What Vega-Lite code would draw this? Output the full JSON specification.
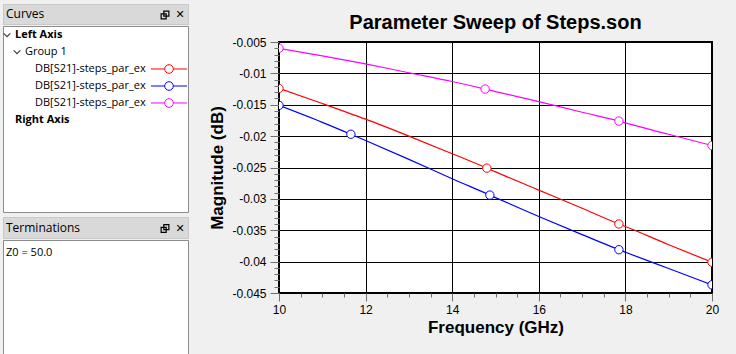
{
  "$schema": "https://vega.github.io/schema/vega-lite/v6.json",
  "background": "#f0f0f0",
  "padding": {"left": 0, "top": 3, "right": 16, "bottom": 1},
  "spacing": 17,
  "config": {"font": "Liberation Sans", "view": {"stroke": null}},
  "datasets": {
    "curves": [
      {"series": "p1", "f": 10, "db": -0.0124}, {"series": "p1", "f": 11, "db": -0.0148}, {"series": "p1", "f": 12, "db": -0.0173},
      {"series": "p1", "f": 13, "db": -0.02}, {"series": "p1", "f": 14, "db": -0.0228}, {"series": "p1", "f": 14.8, "db": -0.0251},
      {"series": "p1", "f": 15, "db": -0.0257}, {"series": "p1", "f": 16, "db": -0.0286}, {"series": "p1", "f": 17, "db": -0.0315},
      {"series": "p1", "f": 17.85, "db": -0.034}, {"series": "p1", "f": 18, "db": -0.0344}, {"series": "p1", "f": 19, "db": -0.0373},
      {"series": "p1", "f": 20, "db": -0.0401},
      {"series": "p2", "f": 10, "db": -0.0151}, {"series": "p2", "f": 11, "db": -0.0178}, {"series": "p2", "f": 11.66, "db": -0.0197},
      {"series": "p2", "f": 12, "db": -0.0207}, {"series": "p2", "f": 13, "db": -0.0237}, {"series": "p2", "f": 14, "db": -0.0268},
      {"series": "p2", "f": 14.87, "db": -0.0294}, {"series": "p2", "f": 15, "db": -0.0298}, {"series": "p2", "f": 16, "db": -0.0328},
      {"series": "p2", "f": 17, "db": -0.0357}, {"series": "p2", "f": 17.85, "db": -0.0381}, {"series": "p2", "f": 18, "db": -0.0385},
      {"series": "p2", "f": 19, "db": -0.0411}, {"series": "p2", "f": 20, "db": -0.0437},
      {"series": "p3", "f": 10, "db": -0.006}, {"series": "p3", "f": 11, "db": -0.0072}, {"series": "p3", "f": 12, "db": -0.0085},
      {"series": "p3", "f": 13, "db": -0.0099}, {"series": "p3", "f": 14, "db": -0.0113}, {"series": "p3", "f": 14.76, "db": -0.0125},
      {"series": "p3", "f": 15, "db": -0.0129}, {"series": "p3", "f": 16, "db": -0.0145}, {"series": "p3", "f": 17, "db": -0.0162},
      {"series": "p3", "f": 17.85, "db": -0.0176}, {"series": "p3", "f": 18, "db": -0.0179}, {"series": "p3", "f": 19, "db": -0.0197},
      {"series": "p3", "f": 20, "db": -0.0215}
    ],
    "markers": [
      {"series": "p1", "f": 10, "db": -0.0124}, {"series": "p1", "f": 14.8, "db": -0.0251}, {"series": "p1", "f": 17.85, "db": -0.034}, {"series": "p1", "f": 20, "db": -0.0401},
      {"series": "p2", "f": 10, "db": -0.0151}, {"series": "p2", "f": 11.66, "db": -0.0197}, {"series": "p2", "f": 14.87, "db": -0.0294}, {"series": "p2", "f": 17.85, "db": -0.0381}, {"series": "p2", "f": 20, "db": -0.0437},
      {"series": "p3", "f": 10, "db": -0.006}, {"series": "p3", "f": 14.76, "db": -0.0125}, {"series": "p3", "f": 17.85, "db": -0.0176}, {"series": "p3", "f": 20, "db": -0.0215}
    ],
    "tree": [
      {"row": 0, "level": 0, "label": "Left Axis", "expanded": true},
      {"row": 1, "level": 1, "label": "Group 1", "expanded": true},
      {"row": 2, "level": 2, "label": "DB[S21]-steps_par_ex", "series": "p1"},
      {"row": 3, "level": 2, "label": "DB[S21]-steps_par_ex", "series": "p2"},
      {"row": 4, "level": 2, "label": "DB[S21]-steps_par_ex", "series": "p3"},
      {"row": 5, "level": 0, "label": "Right Axis"}
    ]
  },
  "hconcat": [
    {
      "spacing": 3,
      "vconcat": [
        {
          "spacing": 0,
          "vconcat": [
            {
              "width": 185, "height": 20,
              "view": {"fill": "#d9d9d9", "stroke": "#c8c8c8"},
              "data": {"values": [{"panel": "Curves", "level": 0}]},
              "encoding": {"x": {"field": "level", "type": "quantitative", "scale": {"domain": [0, 1]}, "axis": null}},
              "layer": [
                {
                  "mark": {"type": "text", "align": "left", "baseline": "middle", "font": "Open Sans", "fontSize": 12, "color": "black", "dx": 3},
                  "encoding": {"text": {"field": "panel"}}
                },
                {
                  "mark": {"type": "text", "align": "center", "baseline": "middle", "font": "DejaVu Sans", "fontSize": 11, "fontWeight": "bold", "color": "black", "dx": -8, "dy": 1, "text": "✕"},
                  "encoding": {"x": {"datum": 1, "type": "quantitative"}}
                },
                {
                  "mark": {"type": "point", "shape": "M-0.3,-1H1V0.3H-0.3Z M-1,-0.3H0.3V1H-1Z", "filled": false, "size": 60, "strokeWidth": 1.2, "color": "black", "opacity": 1, "xOffset": -23, "yOffset": 1},
                  "encoding": {"x": {"datum": 1, "type": "quantitative"}}
                }
              ]
            },
            {
              "width": 185, "height": 186,
              "view": {"fill": "white", "stroke": "#8c8c8c"},
              "data": {"name": "tree"},
              "encoding": {
                "x": {"field": "level", "type": "quantitative", "scale": {"domain": [0, 18.5]}, "axis": null},
                "y": {"field": "row", "type": "quantitative", "scale": {"domain": [-0.5294, 10.4118], "reverse": true}, "axis": null}
              },
              "layer": [
                {
                  "transform": [{"filter": "datum.level == 0"}],
                  "mark": {"type": "text", "align": "left", "baseline": "middle", "font": "Open Sans", "fontSize": 11, "fontWeight": "bold", "color": "black", "dx": 12},
                  "encoding": {"text": {"field": "label"}}
                },
                {
                  "transform": [{"filter": "datum.level > 0"}],
                  "mark": {"type": "text", "align": "left", "baseline": "middle", "font": "Open Sans", "fontSize": 11, "color": "black", "dx": 12},
                  "encoding": {"text": {"field": "label"}}
                },
                {
                  "transform": [{"filter": "datum.expanded"}],
                  "mark": {"type": "point", "shape": "M-1,-0.5L0,0.5L1,-0.5", "filled": false, "size": 45, "strokeWidth": 1.2, "color": "#404040", "opacity": 1, "xOffset": 4},
                  "encoding": {}
                },
                {
                  "transform": [{"filter": "datum.series != null"}],
                  "mark": {"type": "point", "shape": "M-4.2,0H-1A1,1,0,1,0,1,0A1,1,0,1,0,-1,0M1,0H4.2", "filled": false, "fill": "white", "fillOpacity": 1, "size": 74, "strokeWidth": 1, "opacity": 1, "xOffset": 146},
                  "encoding": {
                    "color": {"field": "series", "type": "nominal", "scale": {"domain": ["p1", "p2", "p3"], "range": ["#ff0000", "#0000ff", "#ff00ff"]}, "legend": null}
                  }
                }
              ]
            }
          ]
        },
        {
          "spacing": 0,
          "vconcat": [
            {
              "width": 185, "height": 21,
              "view": {"fill": "#d9d9d9", "stroke": "#c8c8c8"},
              "data": {"values": [{"panel": "Terminations", "level": 0}]},
              "encoding": {"x": {"field": "level", "type": "quantitative", "scale": {"domain": [0, 1]}, "axis": null}},
              "layer": [
                {
                  "mark": {"type": "text", "align": "left", "baseline": "middle", "font": "Open Sans", "fontSize": 12, "color": "black", "dx": 3},
                  "encoding": {"text": {"field": "panel"}}
                },
                {
                  "mark": {"type": "text", "align": "center", "baseline": "middle", "font": "DejaVu Sans", "fontSize": 11, "fontWeight": "bold", "color": "black", "dx": -8, "dy": 1, "text": "✕"},
                  "encoding": {"x": {"datum": 1, "type": "quantitative"}}
                },
                {
                  "mark": {"type": "point", "shape": "M-0.3,-1H1V0.3H-0.3Z M-1,-0.3H0.3V1H-1Z", "filled": false, "size": 60, "strokeWidth": 1.2, "color": "black", "opacity": 1, "xOffset": -23, "yOffset": 1},
                  "encoding": {"x": {"datum": 1, "type": "quantitative"}}
                }
              ]
            },
            {
              "width": 185, "height": 116,
              "view": {"fill": "white", "stroke": "#8c8c8c"},
              "data": {"values": [{"row": 0, "level": 0, "label": "Z0 = 50.0"}]},
              "mark": {"type": "text", "align": "left", "baseline": "middle", "font": "Open Sans", "fontSize": 11, "color": "black", "dx": 3},
              "encoding": {
                "x": {"field": "level", "type": "quantitative", "scale": {"domain": [0, 18.5]}, "axis": null},
                "y": {"field": "row", "type": "quantitative", "scale": {"domain": [-0.765, 6.06], "reverse": true}, "axis": null},
                "text": {"field": "label"}
              }
            }
          ]
        }
      ]
    },
    {
      "spacing": 3,
      "bounds": "flush",
      "vconcat": [
        {
          "width": 433, "height": 35,
          "data": {"values": [{"title": "Parameter Sweep of Steps.son"}]},
          "mark": {"type": "text", "align": "center", "baseline": "middle", "font": "Liberation Sans", "fontSize": 20, "fontWeight": "bold", "color": "black", "dy": 1},
          "encoding": {"text": {"field": "title"}}
        },
        {
          "width": 433, "height": 251,
          "view": {"fill": "white", "stroke": "black", "strokeWidth": 2},
          "encoding": {
            "x": {
              "field": "f", "type": "quantitative", "title": "Frequency (GHz)",
              "scale": {"domain": [10, 20], "nice": false, "zero": false},
              "axis": {
                "values": [10, 10.5, 11, 11.5, 12, 12.5, 13, 13.5, 14, 14.5, 15, 15.5, 16, 16.5, 17, 17.5, 18, 18.5, 19, 19.5, 20],
                "labelExpr": "datum.value % 2 == 0 ? toString(datum.value) : ''",
                "labelOverlap": false, "labelFlush": false,
                "grid": true, "gridColor": "black", "gridWidth": 1,
                "gridOpacity": {"condition": {"test": "datum.value % 2 == 0", "value": 1}, "value": 0},
                "tickSize": {"condition": {"test": "datum.value % 2 == 0", "value": 8}, "value": 4},
                "tickColor": "#707070", "domain": false,
                "labelFont": "Liberation Sans", "labelFontSize": 12, "labelColor": "black", "labelPadding": 3,
                "titleFont": "Liberation Sans", "titleFontSize": 17, "titleFontWeight": "bold", "titleColor": "black", "titlePadding": 4
              }
            },
            "y": {
              "field": "db", "type": "quantitative", "title": "Magnitude (dB)",
              "scale": {"domain": [-0.045, -0.005], "nice": false, "zero": false},
              "axis": {
                "values": [-0.045, -0.044, -0.043, -0.042, -0.041, -0.04, -0.039, -0.038, -0.037, -0.036, -0.035, -0.034, -0.033, -0.032, -0.031, -0.03, -0.029, -0.028, -0.027, -0.026, -0.025, -0.024, -0.023, -0.022, -0.021, -0.02, -0.019, -0.018, -0.017, -0.016, -0.015, -0.014, -0.013, -0.012, -0.011, -0.01, -0.009, -0.008, -0.007, -0.006, -0.005],
                "labelExpr": "abs(round(datum.value*1000)) % 5 == 0 ? toString(datum.value) : ''",
                "labelOverlap": false, "labelFlush": false,
                "grid": true, "gridColor": "black", "gridWidth": 1,
                "gridOpacity": {"condition": {"test": "abs(round(datum.value*1000)) % 5 == 0", "value": 1}, "value": 0},
                "tickSize": {"condition": {"test": "abs(round(datum.value*1000)) % 5 == 0", "value": 9}, "value": 5},
                "tickColor": "#707070", "domain": false,
                "labelFont": "Liberation Sans", "labelFontSize": 12, "labelColor": "black", "labelPadding": 4,
                "titleFont": "Liberation Sans", "titleFontSize": 17, "titleFontWeight": "bold", "titleColor": "black", "titlePadding": 5
              }
            },
            "color": {"field": "series", "type": "nominal", "scale": {"domain": ["p1", "p2", "p3"], "range": ["#ff0000", "#0000ff", "#ff00ff"]}, "legend": null}
          },
          "layer": [
            {"data": {"name": "curves"}, "mark": {"type": "line", "strokeWidth": 1.2, "interpolate": "monotone", "clip": true}},
            {"data": {"name": "markers"}, "mark": {"type": "point", "filled": false, "fill": "white", "fillOpacity": 1, "size": 70, "strokeWidth": 1, "opacity": 1, "clip": true}}
          ]
        }
      ]
    }
  ]
}
